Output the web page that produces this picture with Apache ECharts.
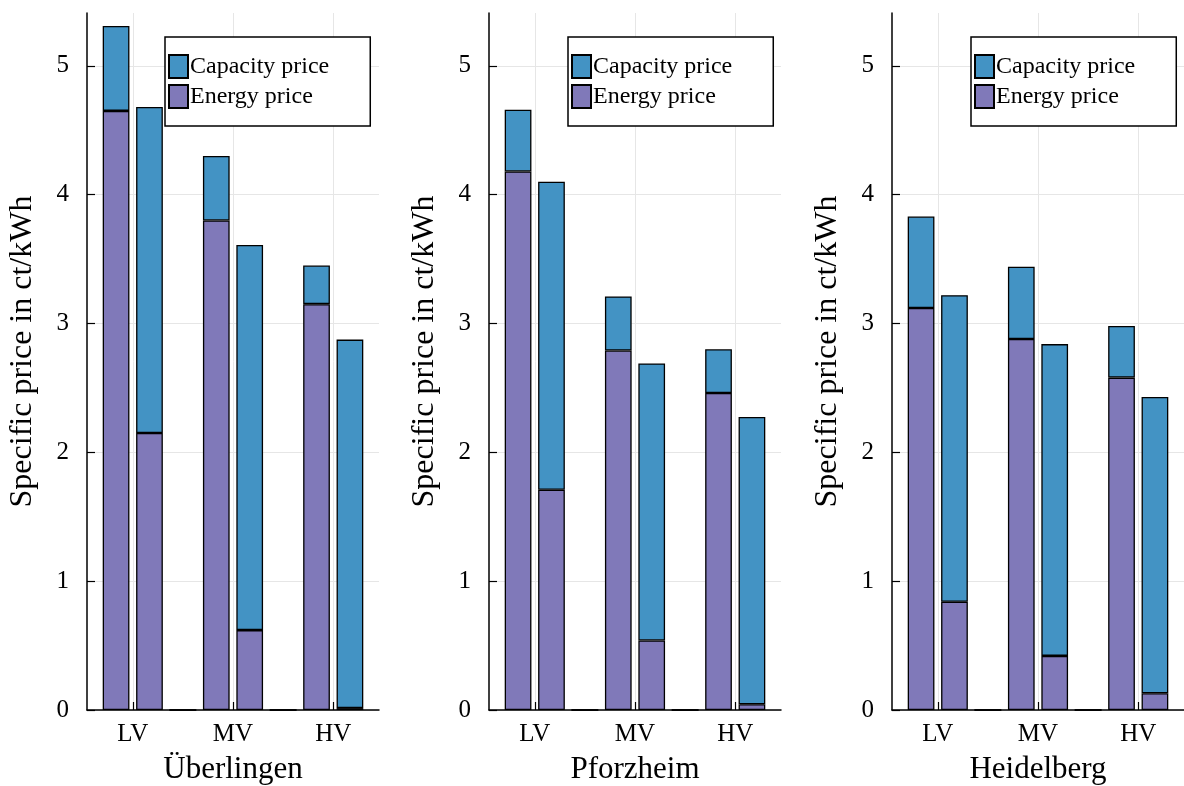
<!DOCTYPE html>
<html>
<head>
<meta charset="utf-8">
<script src="https://cdn.jsdelivr.net/npm/echarts@6/dist/echarts.min.js"></script>
<style>
  html, body { margin: 0; padding: 0; background: #fff; }
  #chart { width: 1184px; height: 786px; }
</style>
</head>
<body>
<div id="chart"></div>
<script>
// Bar slots: two bars per voltage level, an empty slot between levels
const slots = [1, 2, 3, 4, 5, 6, 7, 8];
const tickPositions = [1.5, 4.5, 7.5];
const tickLabels = ['LV', 'MV', 'HV'];
const yTicks = [0, 1, 2, 3, 4, 5];
const cities = ['Überlingen', 'Pforzheim', 'Heidelberg'];
const seriesNames = ['Capacity price', 'Energy price'];

// Specific prices in ct/kWh (energy part at the bottom, capacity part stacked on top)
const energyUeberlingen   = [4.65, 2.15, 0, 3.80, 0.62, 0, 3.15, 0.015];
const capacityUeberlingen = [0.66, 2.53, 0, 0.50, 2.99, 0, 0.30, 2.86];
const energyPforzheim     = [4.18, 1.71, 0, 2.79, 0.54, 0, 2.46, 0.045];
const capacityPforzheim   = [0.48, 2.39, 0, 0.42, 2.15, 0, 0.34, 2.23];
const energyHeidelberg    = [3.12, 0.84, 0, 2.88, 0.42, 0, 2.58, 0.13];
const capacityHeidelberg  = [0.71, 2.38, 0, 0.56, 2.42, 0, 0.40, 2.30];

const energyByCity = [energyUeberlingen, energyPforzheim, energyHeidelberg];
const capacityByCity = [capacityUeberlingen, capacityPforzheim, capacityHeidelberg];

const FONT = '"Liberation Serif", "DejaVu Serif", serif';
const CAPACITY_COLOR = '#4393c4';
const ENERGY_COLOR = '#8079b9';

const gridLefts = [87, 489, 892];
const legendLefts = [165, 568, 971];
const GRID_TOP = 13, GRID_W = 292, GRID_H = 697;
const X_MIN = 0.13, X_MAX = 8.87, Y_MAX = 5.41;
const slotPx = GRID_W / (X_MAX - X_MIN);

const grids = [], xAxes = [], yAxes = [], series = [], legends = [];

cities.forEach((city, p) => {
  // Frame grid: axes, ticks, labels and grid lines on a continuous slot scale
  const frame = grids.length;
  grids.push({
    left: gridLefts[p], top: GRID_TOP, width: GRID_W, height: GRID_H,
    containLabel: false, outerBoundsMode: 'none'
  });
  xAxes.push({
    type: 'value', gridIndex: frame, min: X_MIN, max: X_MAX,
    name: city, nameLocation: 'middle', nameGap: 44,
    nameTextStyle: { fontFamily: FONT, fontSize: 31, color: '#000' },
    axisLine: { show: true, onZero: false, lineStyle: { color: '#000', width: 1.5 } },
    axisTick: { show: true, inside: true, length: 8, customValues: tickPositions, lineStyle: { color: '#000', width: 1.2 } },
    axisLabel: {
      customValues: tickPositions, margin: 12,
      fontFamily: FONT, fontSize: 25, color: '#000',
      formatter: v => tickLabels[tickPositions.indexOf(v)] || ''
    },
    splitLine: { show: true, lineStyle: { color: '#e6e6e6', width: 1 } }
  });
  yAxes.push({
    type: 'value', gridIndex: frame, min: 0, max: Y_MAX,
    name: 'Specific price in ct/kWh', nameLocation: 'middle', nameGap: 48,
    nameTextStyle: { fontFamily: FONT, fontSize: 32, color: '#000', padding: [0, 0, 0, 20] },
    axisLine: { show: true, onZero: false, lineStyle: { color: '#000', width: 1.5 } },
    axisTick: { show: true, inside: true, length: 8, customValues: yTicks, lineStyle: { color: '#000', width: 1.2 } },
    axisLabel: {
      customValues: yTicks, margin: 18, fontFamily: FONT, fontSize: 25, color: '#000'
    },
    splitLine: { show: true, lineStyle: { color: '#e6e6e6', width: 1 } }
  });

  // Bar grid: one category per slot, aligned with the frame's slot scale
  const bars = grids.length;
  grids.push({
    left: gridLefts[p] + (slots[0] - 0.5 - X_MIN) * slotPx,
    top: GRID_TOP, width: slots.length * slotPx, height: GRID_H,
    containLabel: false, outerBoundsMode: 'none'
  });
  xAxes.push({ type: 'category', gridIndex: bars, data: slots, show: false, boundaryGap: true });
  yAxes.push({ type: 'value', gridIndex: bars, min: 0, max: Y_MAX, show: false, splitLine: { show: false } });

  const common = {
    type: 'bar', xAxisIndex: bars, yAxisIndex: bars, stack: 'price' + p,
    barWidth: '80%', animation: false
  };
  series.push(Object.assign({}, common, {
    name: 'Energy price',
    data: energyByCity[p],
    itemStyle: { color: ENERGY_COLOR, borderColor: '#000', borderWidth: 1.3 }
  }));
  series.push(Object.assign({}, common, {
    name: 'Capacity price',
    data: capacityByCity[p],
    itemStyle: { color: CAPACITY_COLOR, borderColor: '#000', borderWidth: 1.3 }
  }));

  legends.push({
    left: legendLefts[p], top: 37, orient: 'vertical',
    data: seriesNames, icon: 'rect', selectedMode: false,
    itemWidth: 19, itemHeight: 23, itemGap: 5,
    padding: [17, 41, 17, 3],
    backgroundColor: '#fff', borderColor: '#000', borderWidth: 1.5,
    textStyle: { fontFamily: FONT, fontSize: 24, color: '#000', padding: [0, 0, 0, -3] }
  });
});

const chart = echarts.init(document.getElementById('chart'), null, { renderer: 'canvas' });
chart.setOption({
  backgroundColor: '#fff',
  animation: false,
  grid: grids,
  xAxis: xAxes,
  yAxis: yAxes,
  legend: legends,
  series: series
});
</script>
</body>
</html>
